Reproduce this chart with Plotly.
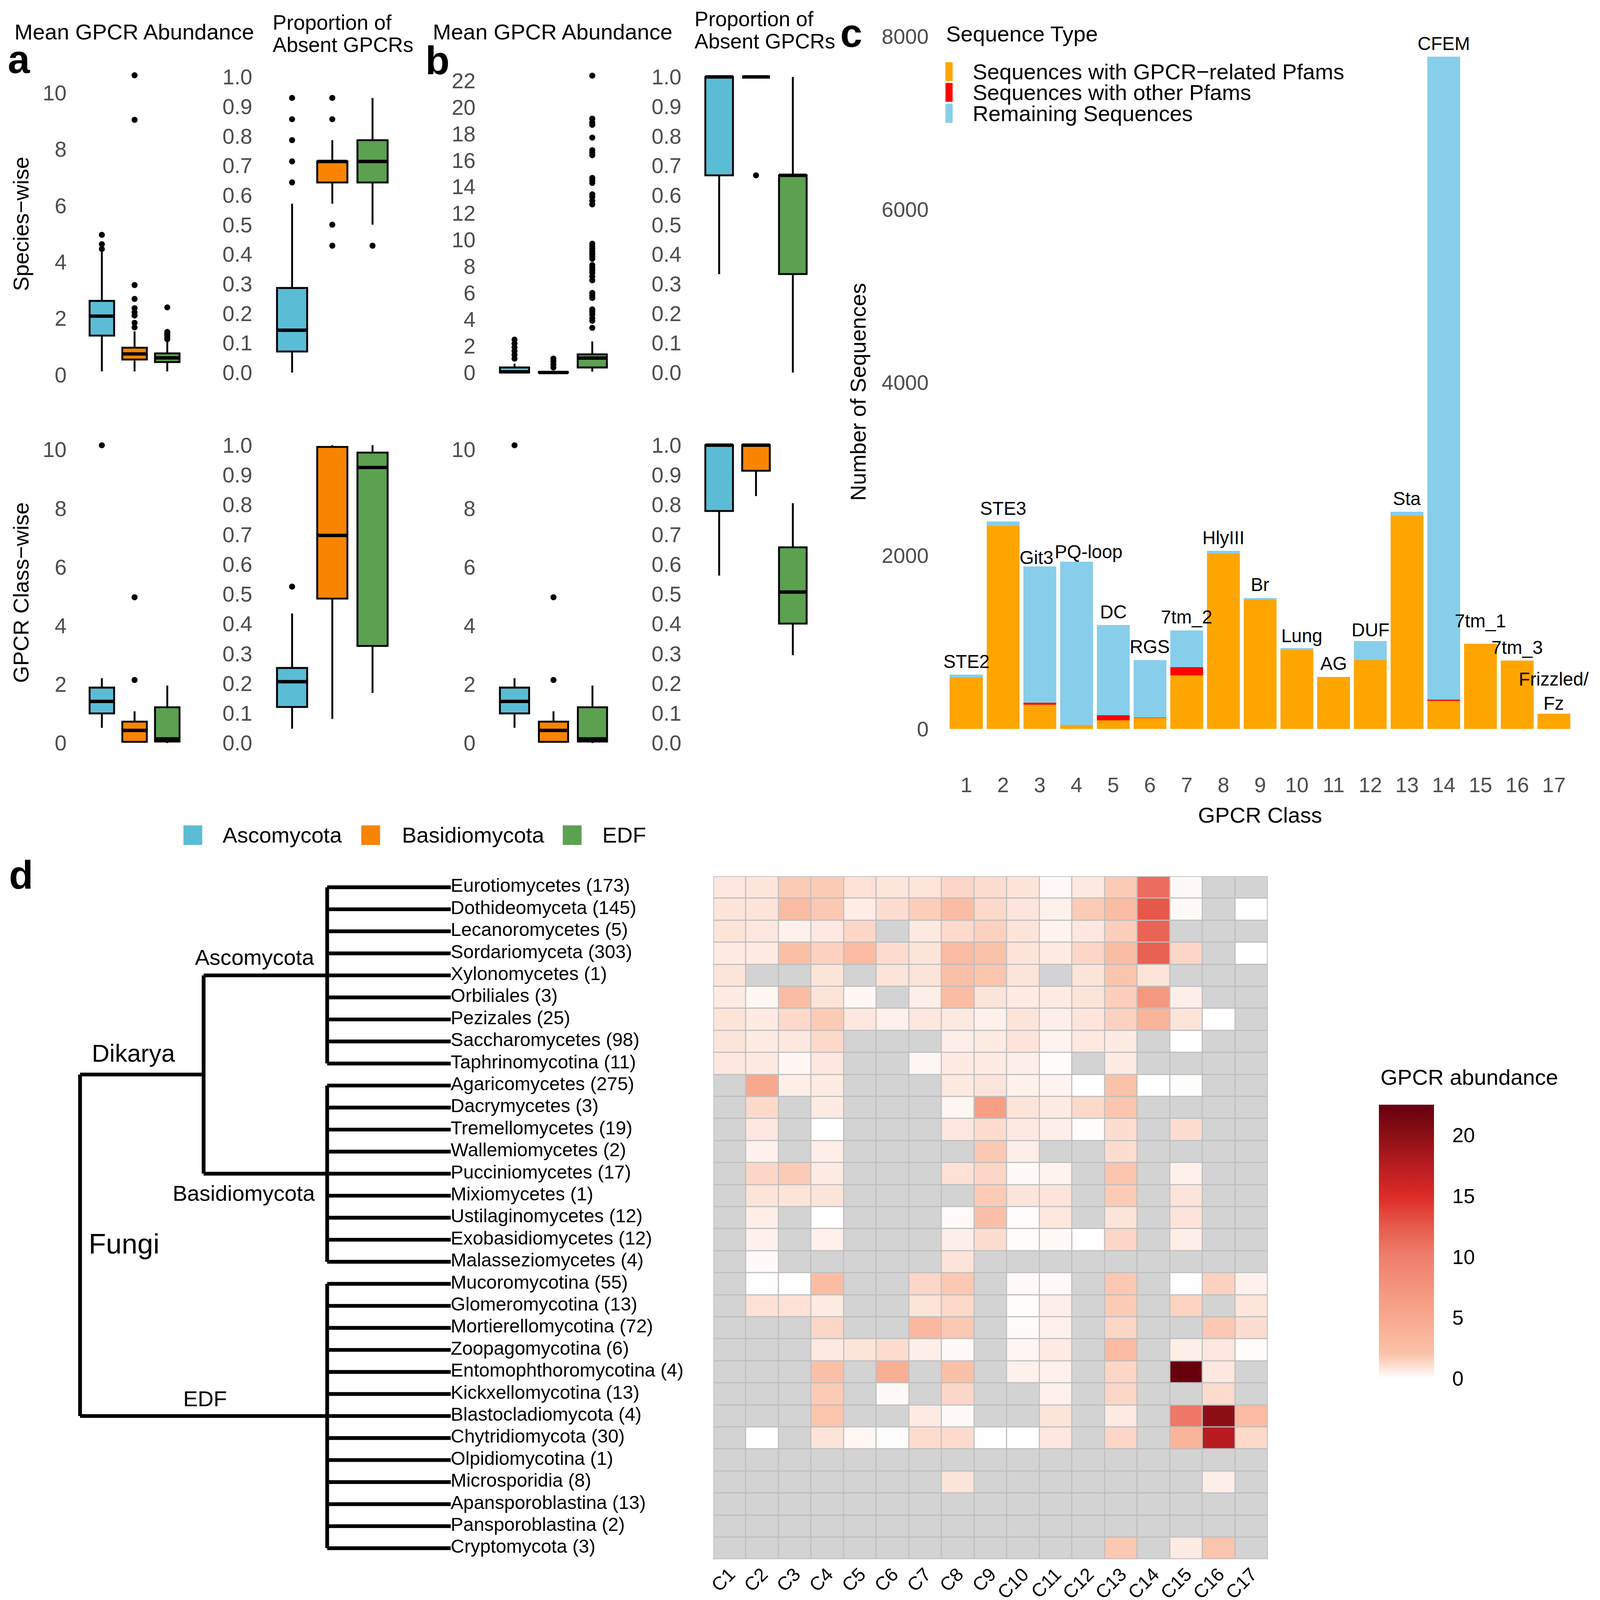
import plotly.graph_objects as go

# the page photo comes out ~3.5% larger and slightly offset, so positions below are
# given in reference-picture pixels and converted to page pixels
S, OX, OY = 1.035, 24.0, 8.3
CW, CH = 4092, 4096
FONT = "Liberation Sans, Arial, Helvetica, sans-serif"
GRAY = "#4d4d4d"

# ---- panels a / b : boxplots ----
groups = ["Ascomycota", "Basidiomycota", "EDF"]
group_colors = ["#5BBCD6", "#F98400", "#5BA150"]

# per group: [lower whisker, q1, median, q3, upper whisker]
a_species_abund = [[0.12, 1.39, 2.08, 2.62, 4.35],
                   [0.12, 0.54, 0.74, 0.96, 1.54],
                   [0.12, 0.45, 0.60, 0.76, 1.16]]
a_species_abund_out = [[4.46, 4.63, 4.96],
                       [1.68, 1.84, 2.10, 2.22, 2.36, 2.69, 3.18, 9.04, 10.62],
                       [1.26, 1.33, 1.40, 1.47, 1.52, 2.39]]
a_species_absent = [[0.0, 0.071, 0.143, 0.286, 0.571],
                    [0.571, 0.643, 0.714, 0.714, 0.786],
                    [0.5, 0.643, 0.714, 0.786, 0.929]]
a_species_absent_out = [[0.643, 0.714, 0.786, 0.857, 0.929],
                        [0.429, 0.5, 0.857, 0.929],
                        [0.429]]
a_class_abund = [[0.52, 1.01, 1.42, 1.89, 2.21],
                 [0.04, 0.04, 0.43, 0.73, 1.08],
                 [0.0, 0.05, 0.14, 1.22, 1.96]]
a_class_abund_out = [[10.15], [2.15, 4.97], []]
a_class_absent = [[0.048, 0.121, 0.206, 0.252, 0.435],
                  [0.081, 0.485, 0.697, 0.994, 1.0],
                  [0.168, 0.326, 0.925, 0.975, 1.0]]
a_class_absent_out = [[0.525], [], []]

b_species_abund = [[0.0, 0.0, 0.05, 0.38, 0.67],
                   [0.0, 0.0, 0.0, 0.03, 0.03],
                   [0.06, 0.38, 1.09, 1.37, 2.34]]
b_species_abund_out = [[1.05, 1.33, 1.62, 1.90, 2.19, 2.48],
                       [0.38, 0.62, 0.86, 1.05],
                       [3.37, 3.90, 4.10, 4.38, 4.57, 4.76, 5.62, 5.81, 6.00, 6.95,
                        7.24, 7.52, 7.71, 7.90, 8.10, 8.57, 8.76, 8.95, 9.14, 9.33,
                        9.52, 9.71, 12.67, 12.95, 13.24, 13.43, 14.29, 14.48, 14.67,
                        16.38, 16.57, 16.76, 17.71, 18.67, 18.86, 19.14, 22.38]]
b_species_absent = [[0.333, 0.667, 1.0, 1.0, 1.0],
                    [1.0, 1.0, 1.0, 1.0, 1.0],
                    [0.0, 0.333, 0.667, 0.667, 1.0]]
b_species_absent_out = [[], [0.667], []]
b_class_abund = [[0.52, 1.01, 1.42, 1.89, 2.21],
                 [0.04, 0.04, 0.43, 0.73, 1.08],
                 [0.0, 0.05, 0.14, 1.22, 1.96]]
b_class_abund_out = [[10.15], [2.15, 4.97], []]
b_class_absent = [[0.562, 0.779, 1.0, 1.0, 1.0],
                  [0.829, 0.914, 1.0, 1.0, 1.0],
                  [0.295, 0.401, 0.507, 0.657, 0.805]]
b_class_absent_out = [[], [], []]

# ---- panel c : stacked bars ----
classes = list(range(1, 18))
gpcr_pfam = [595, 2344, 281, 44, 100, 125, 619, 2025, 1494, 912, 600, 794, 2462, 325, 981, 787, 175]
other_pfam = [0, 0, 19, 0, 56, 6, 93, 0, 0, 0, 0, 0, 0, 12, 0, 0, 0]
remaining = [30, 50, 1575, 1887, 1044, 663, 425, 31, 18, 19, 0, 218, 44, 7425, 0, 0, 0]
bar_labels = ["STE2", "STE3", "Git3", "PQ-loop", "DC", "RGS", "7tm_2", "HlyIII", "Br", "Lung",
              "AG", "DUF", "Sta", "CFEM", "7tm_1", "7tm_3", "Frizzled/<br>Fz"]
seq_types = ["Sequences with GPCR\u2212related Pfams", "Sequences with other Pfams", "Remaining Sequences"]
seq_colors = ["#FFA500", "#FF0000", "#87CEEB"]

# ---- panel d : tree + heatmap ----
clade_names = ["Ascomycota", "Basidiomycota", "EDF"]
clade_sizes = [9, 9, 13]
taxa = ["Eurotiomycetes (173)", "Dothideomyceta (145)", "Lecanoromycetes (5)", "Sordariomyceta (303)",
        "Xylonomycetes (1)", "Orbiliales (3)", "Pezizales (25)", "Saccharomycetes (98)",
        "Taphrinomycotina (11)", "Agaricomycetes (275)", "Dacrymycetes (3)", "Tremellomycetes (19)",
        "Wallemiomycetes (2)", "Pucciniomycetes (17)", "Mixiomycetes (1)", "Ustilaginomycetes (12)",
        "Exobasidiomycetes (12)", "Malasseziomycetes (4)", "Mucoromycotina (55)", "Glomeromycotina (13)",
        "Mortierellomycotina (72)", "Zoopagomycotina (6)", "Entomophthoromycotina (4)",
        "Kickxellomycotina (13)", "Blastocladiomycota (4)", "Chytridiomycota (30)",
        "Olpidiomycotina (1)", "Microsporidia (8)", "Apansporoblastina (13)", "Pansporoblastina (2)",
        "Cryptomycota (3)"]
gpcr_cols = ["C%d" % i for i in range(1, 18)]
N = None
abundance = [
    [0.78, 0.85, 1.72, 1.72, 1.0, 0.85, 0.85, 1.34, 1.1, 0.9, 0.22, 0.72, 1.72, 11.2, 0.2, N, N],
    [0.9, 0.9, 2.8, 1.8, 0.6, 1.1, 1.6, 2.65, 1.25, 0.85, 0.47, 1.72, 2.65, 12.6, 0.18, N, 0.0],
    [0.9, 0.78, 0.47, 0.72, 1.34, N, 0.72, 1.2, 1.5, 0.9, 0.38, 0.78, 1.6, 11.8, N, N, N],
    [0.66, 0.66, 2.4, 1.5, 2.8, 1.15, 0.9, 2.8, 2.0, 0.9, 0.66, 1.34, 2.65, 12.0, 1.34, N, 0.0],
    [0.9, N, N, 0.9, N, 0.9, 0.9, 2.2, 1.9, 0.9, N, 0.9, 1.95, 0.9, N, N, N],
    [0.66, 0.25, 2.65, 0.9, 0.25, N, 0.55, 2.65, 0.9, 0.66, 0.66, 0.9, 1.6, 7.0, 0.55, N, N],
    [0.9, 0.66, 1.25, 1.72, 0.78, 0.47, 0.78, 0.72, 0.47, 0.9, 0.55, 0.85, 1.5, 3.7, 0.9, 0.05, N],
    [0.9, 0.66, 0.78, 1.25, N, N, N, 0.55, 0.66, 0.9, 0.38, 0.72, 0.66, N, 0.0, N, N],
    [0.78, 0.72, 0.25, 0.78, N, N, 0.3, 0.66, 0.66, 0.55, 0.12, N, 0.66, N, N, N, N],
    [N, 5.0, 0.55, 0.66, N, N, N, 0.72, 0.85, 0.47, 0.38, 0.0, 2.05, 0.0, 0.08, N, N],
    [N, 1.25, N, 0.66, N, N, N, 0.3, 6.2, 0.9, 0.66, 1.25, 1.9, N, N, N, N],
    [N, 0.78, N, 0.02, N, N, N, 0.78, 1.15, 0.72, 0.55, 0.08, 1.1, N, 1.1, N, N],
    [N, 0.47, N, 0.55, N, N, N, N, 1.8, 0.55, N, N, 1.1, N, N, N, N],
    [N, 1.34, 1.72, 0.66, N, N, N, 1.0, 1.34, 0.15, 0.38, N, 1.9, N, 0.47, N, N],
    [N, 0.9, 0.9, 0.9, N, N, N, N, 1.72, 0.9, 0.9, N, 1.72, N, 0.9, N, N],
    [N, 0.55, N, 0.05, N, N, N, 0.15, 2.2, 0.1, 0.78, N, 0.9, N, 0.9, N, N],
    [N, 0.47, N, 0.47, N, N, N, 0.55, 1.1, 0.08, 0.18, 0.05, 1.34, N, 0.55, N, N],
    [N, 0.15, N, N, N, N, N, 0.9, N, N, N, N, N, N, N, N, N],
    [N, 0.02, 0.0, 2.65, N, N, 1.34, 1.8, N, 0.15, 0.15, N, 1.8, N, 0.02, 1.5, 0.47],
    [N, 1.0, 1.0, 0.66, N, N, 0.9, 1.25, N, 0.08, 0.55, N, 1.72, N, 1.45, N, 0.85],
    [N, N, N, 1.34, N, N, 3.2, 1.8, N, 0.12, 0.47, N, 1.34, N, N, 1.8, 1.1],
    [N, N, N, 0.72, 0.9, 1.15, 0.55, 0.2, N, 0.3, 0.66, N, 2.8, N, 0.55, 0.78, 0.12],
    [N, N, N, 2.2, N, 4.3, N, 2.2, N, 0.47, 0.47, N, 1.34, N, 22.5, 0.78, N],
    [N, N, N, 1.72, N, 0.18, N, 1.34, N, N, 0.47, N, 1.34, N, N, 1.15, N],
    [N, N, N, 1.95, N, N, 0.66, 0.15, N, N, 0.9, N, 0.66, N, 10.5, 20.0, 2.8],
    [N, 0.0, N, 0.9, 0.25, 0.08, 1.15, 1.15, 0.05, 0.05, 0.78, N, 1.34, N, 3.7, 17.5, 1.25],
    [N, N, N, N, N, N, N, N, N, N, N, N, N, N, N, N, N],
    [N, N, N, N, N, N, N, 0.9, N, N, N, N, N, N, N, 0.55, N],
    [N, N, N, N, N, N, N, N, N, N, N, N, N, N, N, N, N],
    [N, N, N, N, N, N, N, N, N, N, N, N, N, N, N, N, N],
    [N, N, N, N, N, N, N, N, N, N, N, N, 1.8, N, 0.66, 1.95, N],
]
zmax = 22.5
bar_ticks = [0, 5, 10, 15, 20]
heat_scale = [[0, "#ffffff"], [2 / zmax, "#fbc2aa"], [5 / zmax, "#f8a98d"], [10 / zmax, "#ef7f6d"],
              [12.5 / zmax, "#e65a4b"], [15 / zmax, "#dc2b26"], [17.5 / zmax, "#b81c20"],
              [20 / zmax, "#8c0f16"], [1, "#67000d"]]


# picture pixels -> page fractions
def px(x):
    return (x - OX) / S / CW


def py(y):
    return 1 - (y - OY) / S / CH


def k(v):
    # sizes in picture pixels -> page pixels
    return v / S


def xdom(v0, p0, v1, p1, lo, hi):
    s = (p1 - p0) / (v1 - v0)
    return [px(p0 + (lo - v0) * s), px(p0 + (hi - v0) * s)]


def ydom(v0, p0, v1, p1, lo, hi):
    s = (p1 - p0) / (v1 - v0)
    return [py(p0 + (lo - v0) * s), py(p0 + (hi - v0) * s)]


def font(size, color="black"):
    return dict(size=k(size), color=color, family=FONT)


fig = go.Figure()
layout_axes = {}

hidden = dict(showgrid=False, zeroline=False, showline=False, ticks="", showticklabels=False)

# box panels: axis n, stats, outliers, x pixel of first/last group, y calibration, y range, ticks
props = [round(i * 0.1, 1) for i in range(11)]
box_panels = [
    (1, a_species_abund, a_species_abund_out, 270, 444, (0, 994, 10, 246), [-0.5, 11.2], list(range(0, 11, 2)), ""),
    (2, a_species_absent, a_species_absent_out, 776, 990, (0, 988, 1, 204), [-0.05, 1.05], props, ".1f"),
    (3, a_class_abund, a_class_abund_out, 270, 444, (0, 1970.7, 10, 1192.6), [-0.5, 10.7], list(range(0, 11, 2)), ""),
    (4, a_class_absent, a_class_absent_out, 776, 990, (0, 1970.7, 1, 1180.6), [-0.05, 1.05], props, ".1f"),
    (5, b_species_abund, b_species_abund_out, 1367.7, 1574.5, (0, 988, 22, 214), [-1.1, 23.4], list(range(0, 23, 2)), ""),
    (6, b_species_absent, b_species_absent_out, 1912, 2108, (0, 988, 1, 204), [-0.05, 1.05], props, ".1f"),
    (7, b_class_abund, b_class_abund_out, 1367.7, 1575, (0, 1970.7, 10, 1192.6), [-0.5, 10.7], list(range(0, 11, 2)), ""),
    (8, b_class_absent, b_class_absent_out, 1912, 2108, (0, 1970.7, 1, 1180.6), [-0.05, 1.05], props, ".1f"),
]

for n, stats, outs, x0p, x2p, ycal, yrange, tv, fmt in box_panels:
    xa, ya = "x%d" % n, "y%d" % n
    for i, (s, out, col) in enumerate(zip(stats, outs, group_colors)):
        lo, q1, med, q3, hi = s
        fig.add_trace(go.Box(x=[i], q1=[q1], median=[med], q3=[q3], lowerfence=[lo], upperfence=[hi],
                             fillcolor=col, line=dict(color="black", width=k(5)), whiskerwidth=0,
                             width=0.75, boxpoints=False, xaxis=xa, yaxis=ya, hoverinfo="skip"))
        # ggplot draws the median thicker than the box outline
        fig.add_trace(go.Scatter(x=[i - 0.375, i + 0.375], y=[med, med], mode="lines",
                                 line=dict(color="black", width=k(9)), xaxis=xa, yaxis=ya,
                                 hoverinfo="skip", cliponaxis=False))
        if out:
            fig.add_trace(go.Scatter(x=[i] * len(out), y=out, mode="markers",
                                     marker=dict(color="black", size=k(16)), xaxis=xa, yaxis=ya,
                                     hoverinfo="skip", cliponaxis=False))
    layout_axes["xaxis%d" % n] = dict(hidden, domain=xdom(0, x0p, 2, x2p, -0.6, 2.6), range=[-0.6, 2.6],
                                      anchor=ya)
    layout_axes["yaxis%d" % n] = dict(showgrid=False, zeroline=False, showline=False, ticks="",
                                      domain=ydom(ycal[0], ycal[1], ycal[2], ycal[3], yrange[0], yrange[1]),
                                      range=yrange, anchor=xa, tickvals=tv, tickformat=fmt,
                                      tickfont=font(57, GRAY), ticklabelstandoff=round(k(40)))

# panel c bars
for vals, name, col in zip([gpcr_pfam, other_pfam, remaining], seq_types, seq_colors):
    fig.add_trace(go.Bar(x=classes, y=vals, name=name, marker=dict(color=col, line=dict(width=0)),
                         width=0.9, xaxis="x9", yaxis="y9", hoverinfo="skip"))
layout_axes["xaxis9"] = dict(showgrid=False, zeroline=False, showline=False, ticks="",
                             domain=xdom(1, 2569.5, 17, 4132.6, 0.4, 17.6), range=[0.4, 17.6],
                             anchor="y9", tickvals=classes, tickfont=font(56, GRAY),
                             ticklabelstandoff=round(k(22)))
layout_axes["yaxis9"] = dict(showgrid=False, zeroline=False, showline=False, ticks="",
                             domain=ydom(0, 1933, 8000, 96, -390, 8150), range=[-390, 8150],
                             anchor="x9", tickvals=[0, 2000, 4000, 6000, 8000],
                             tickfont=font(56, GRAY), ticklabelstandoff=round(k(40)))

label_shift = {"Git3": (-9, 24), "PQ-loop": (32, 26), "Lung": (13, 33), "DUF": (0, 30),
               "7tm_1": (0, 61), "Frizzled/<br>Fz": (0, 60)}
for c, lab, g, o, r in zip(classes, bar_labels, gpcr_pfam, other_pfam, remaining):
    dx, dy = label_shift.get(lab, (0, 35))
    fig.add_annotation(x=c, y=g + o + r, xref="x9", yref="y9", text=lab, showarrow=False,
                       xshift=k(dx), yshift=k(dy), xanchor="center", yanchor="middle", font=font(49))

# panel d tree
tx, ty = [], []


def seg(x0, y0, x1, y1):
    tx.extend([x0, x1, None])
    ty.extend([y0, y1, None])


start = 0
clade_y = []
for size in clade_sizes:
    rows = list(range(start, start + size))
    for r in rows:
        seg(2, r, 3, r)
    seg(2, rows[0], 2, rows[-1])
    clade_y.append((rows[0] + rows[-1]) / 2)
    start += size
yA, yB, yE = clade_y
yD = (yA + yB) / 2
seg(1, yA, 2, yA)
seg(1, yB, 2, yB)
seg(1, yA, 1, yB)
seg(0, yD, 1, yD)
seg(0, yE, 2, yE)
seg(0, yD, 0, yE)

fig.add_trace(go.Scatter(x=tx, y=ty, mode="lines", line=dict(color="black", width=k(10)),
                         xaxis="x10", yaxis="y10", hoverinfo="skip", cliponaxis=False))
fig.add_trace(go.Scatter(x=[3] * len(taxa), y=list(range(len(taxa))), mode="text", text=taxa,
                         textposition="middle right", textfont=font(50),
                         xaxis="x10", yaxis="y10", hoverinfo="skip", cliponaxis=False))

row_dom = ydom(0, 2353.2, 30, 4106.1, 30.5, -0.5)
layout_axes["xaxis10"] = dict(hidden, domain=xdom(0, 212, 3, 1198, -0.1, 3.05), range=[-0.1, 3.05],
                              anchor="y10")
layout_axes["yaxis10"] = dict(hidden, domain=row_dom, range=[30.5, -0.5], anchor="x10")

# heatmap: grid colour underneath, NA cells in light gray, values on top
nrow, ncol = len(taxa), len(gpcr_cols)
cols_idx = list(range(ncol))
rows_idx = list(range(nrow))
grid = [[0] * ncol for _ in rows_idx]
missing = [[1 if v is None else None for v in row] for row in abundance]
fig.add_trace(go.Heatmap(z=grid, x=cols_idx, y=rows_idx, colorscale=[[0, "#bebebe"], [1, "#bebebe"]],
                         showscale=False, xaxis="x11", yaxis="y11", hoverinfo="skip"))
fig.add_trace(go.Heatmap(z=missing, x=cols_idx, y=rows_idx, colorscale=[[0, "#d3d3d3"], [1, "#d3d3d3"]],
                         showscale=False, xgap=k(3), ygap=k(3), xaxis="x11", yaxis="y11", hoverinfo="skip"))
# colour bar: bar from y=3656 (0) to y=2930 (22.5), x 3667..3813 in picture pixels
cb_top, cb_bot, cb_left, cb_right = 2930, 3656, 3667, 3813
fig.add_trace(go.Heatmap(z=abundance, x=cols_idx, y=rows_idx, colorscale=heat_scale, zmin=0, zmax=zmax,
                         xgap=k(3), ygap=k(3), xaxis="x11", yaxis="y11", hoverinfo="skip",
                         colorbar=dict(x=px(cb_left), xanchor="left", y=py(cb_bot), yanchor="bottom",
                                       len=k(cb_bot - cb_top) / CH, lenmode="fraction",
                                       thickness=k(cb_right - cb_left),
                                       thicknessmode="pixels", xpad=0, ypad=0, outlinewidth=0,
                                       tickvals=bar_ticks, ticks="outside", ticklen=k(38),
                                       tickcolor="rgba(0,0,0,0)", tickfont=font(54))))
layout_axes["xaxis11"] = dict(showgrid=False, zeroline=False, showline=False, ticks="",
                              domain=xdom(0, 1939.9, 16, 3327.9, -0.5, 16.5), range=[-0.5, 16.5],
                              anchor="y11", tickvals=cols_idx, ticktext=gpcr_cols, tickangle=-45,
                              tickfont=font(50))
layout_axes["yaxis11"] = dict(hidden, domain=row_dom, range=[30.5, -0.5], anchor="x11")

shapes = [dict(type="rect", xref="x11", yref="y11", x0=-0.5, x1=16.5, y0=-0.5, y1=30.5,
               line=dict(color="#bebebe", width=k(3)))]

# white tick marks inside the colour bar (ggplot style, both edges)
for v in bar_ticks[1:]:
    yv = cb_bot - v / zmax * (cb_bot - cb_top)
    for xa0, xa1 in [(cb_left, cb_left + 29), (cb_right - 29, cb_right)]:
        shapes.append(dict(type="line", xref="paper", yref="paper", x0=px(xa0), x1=px(xa1),
                           y0=py(yv), y1=py(yv), line=dict(color="white", width=k(3))))

# box legend (bottom of a/b)
legend_x = [(487, 589), (960, 1066), (1496, 1599)]
annotations = []
for (x0, tx0), name, col in zip(legend_x, groups, group_colors):
    shapes.append(dict(type="rect", xref="paper", yref="paper", x0=px(x0), x1=px(x0 + 50),
                       y0=py(2241), y1=py(2189), fillcolor=col, line=dict(width=0)))
    annotations.append(dict(x=px(tx0), y=py(2215), text=name, xanchor="left"))

# panel c legend
annotations.append(dict(x=px(2514), y=py(90), text="Sequence Type", xanchor="left"))
for (y0, y1), name, col in zip([(165, 215), (220, 270), (275, 326)], seq_types, seq_colors):
    shapes.append(dict(type="rect", xref="paper", yref="paper", x0=px(2514), x1=px(2533),
                       y0=py(y1), y1=py(y0), fillcolor=col, line=dict(width=0)))
    annotations.append(dict(x=px(2584), y=py((y0 + y1) / 2), text=name, xanchor="left"))

# titles and labels
annotations += [
    dict(x=px(35), y=py(84), text="Mean GPCR Abundance", xanchor="left"),
    dict(x=px(722), y=py(60), text="Proportion of", xanchor="left", font=font(55)),
    dict(x=px(722), y=py(119), text="Absent GPCRs", xanchor="left", font=font(55)),
    dict(x=px(1148), y=py(84), text="Mean GPCR Abundance", xanchor="left"),
    dict(x=px(1844), y=py(50), text="Proportion of", xanchor="left", font=font(55)),
    dict(x=px(1844), y=py(109), text="Absent GPCRs", xanchor="left", font=font(55)),
    dict(x=px(55), y=py(594), text="Species\u2212wise", textangle=-90),
    dict(x=px(55), y=py(1572), text="GPCR Class\u2212wise", textangle=-90),
    dict(x=px(2282), y=py(1040), text="Number of Sequences", textangle=-90),
    dict(x=px(3351), y=py(2162), text="GPCR Class"),
    dict(x=px(3669), y=py(2857), text="GPCR abundance", xanchor="left"),
    dict(x=px(677), y=py(2539), text="Ascomycota"),
    dict(x=px(354), y=py(2793), text="Dikarya", font=font(65)),
    dict(x=px(648), y=py(3164), text="Basidiomycota"),
    dict(x=px(545), y=py(3709), text="EDF"),
    dict(x=px(329), y=py(3298), text="Fungi", font=font(75)),
    dict(x=px(18), y=py(157), text="<b>a</b>", xanchor="left", font=font(105)),
    dict(x=px(1129), y=py(160), text="<b>b</b>", xanchor="left", font=font(105)),
    dict(x=px(2232), y=py(88), text="<b>c</b>", xanchor="left", font=font(105)),
    dict(x=px(21), y=py(2320), text="<b>d</b>", xanchor="left", font=font(105)),
]
for a in annotations:
    a.setdefault("xref", "paper")
    a.setdefault("yref", "paper")
    a.setdefault("showarrow", False)
    a.setdefault("xanchor", "center")
    a.setdefault("yanchor", "middle")
    a.setdefault("font", font(58))

fig.update_layout(width=CW, height=CH, margin=dict(l=0, r=0, t=0, b=0, pad=0),
                  paper_bgcolor="white", plot_bgcolor="white", showlegend=False,
                  barmode="stack", boxmode="overlay", font=dict(family=FONT, color="black"),
                  shapes=shapes, **layout_axes)
for a in annotations:
    fig.add_annotation(**a)

fig.write_html("out.html")
